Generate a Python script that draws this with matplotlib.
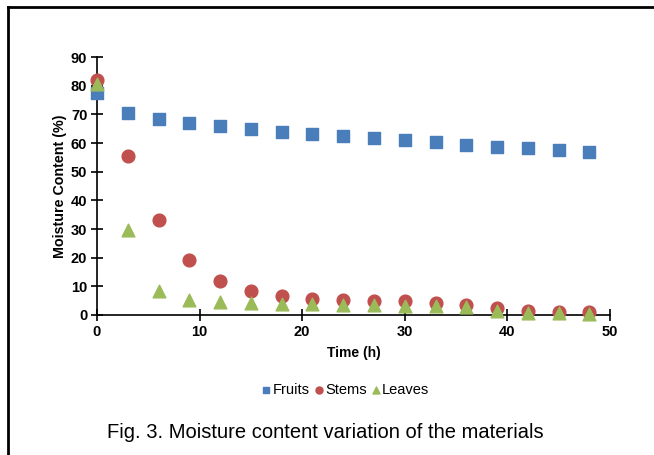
import matplotlib
matplotlib.use("Agg")
import matplotlib.pyplot as plt
from matplotlib.lines import Line2D

plt.rcParams['font.family'] = ['Liberation Sans', 'DejaVu Sans']

# drying time (h)
time_h = [0, 3, 6, 9, 12, 15, 18, 21, 24, 27, 30, 33, 36, 39, 42, 45, 48]
fruits = [77.5, 70.5, 68.3, 67.0, 66.0, 65.0, 64.0, 63.2, 62.5, 61.7, 61.0, 60.2, 59.3, 58.7, 58.2, 57.6, 57.0]
stems = [82.0, 55.3, 33.0, 19.3, 12.0, 8.2, 6.7, 5.7, 5.2, 5.0, 4.8, 4.2, 3.5, 2.5, 1.5, 1.2, 1.0]
leaves = [80.5, 29.8, 8.5, 5.3, 4.6, 4.3, 4.0, 3.8, 3.6, 3.5, 3.3, 3.1, 2.9, 1.5, 0.8, 0.6, 0.5]

fig = plt.figure(figsize=(6.54, 4.55), dpi=100)
ax = fig.add_axes([0.1483, 0.3077, 0.7844, 0.567])

ax.scatter(time_h, fruits, marker='s', s=76, color='#4A7EBB', label='Fruits', zorder=3, clip_on=False)
ax.scatter(time_h, stems, marker='o', s=84, color='#C0504D', label='Stems', zorder=4, clip_on=False)
ax.scatter(time_h, leaves, marker='^', s=84, color='#9BBB59', label='Leaves', zorder=5, clip_on=False)

ax.set_xlim(0, 50)
ax.set_ylim(0, 90)
ax.set_xticks(range(0, 51, 10))
ax.set_yticks(range(0, 91, 10))
for side in ['top', 'right']:
    ax.spines[side].set_visible(False)
for side in ['left', 'bottom']:
    ax.spines[side].set_linewidth(1.2)
ax.tick_params(direction='inout', length=8, width=1.2, labelsize=10.5, pad=3)
for lab in ax.get_xticklabels() + ax.get_yticklabels():
    lab.set_fontweight('bold')

ax.set_xlabel('Time (h)', fontsize=10, fontweight='bold', labelpad=5)
ax.set_ylabel('Moisture Content (%)', fontsize=10.3, fontweight='bold', labelpad=3)

ax.legend(loc='center', bbox_to_anchor=(345 / 654, 1 - 390 / 455), bbox_transform=fig.transFigure,
          ncol=3, frameon=False, fontsize=10.5, handletextpad=0.05, columnspacing=0.2,
          handlelength=0.8, markerscale=0.55)

fig.text(325 / 654, 1 - 433 / 455, 'Fig. 3. Moisture content variation of the materials',
         ha='center', va='center', fontsize=14.5)

# frame around the figure (left and top edges visible)
fig.add_artist(Line2D([8 / 654, 8 / 654], [0, 1 - 7 / 455], transform=fig.transFigure, color='black', lw=2))
fig.add_artist(Line2D([8 / 654, 1], [1 - 7 / 455, 1 - 7 / 455], transform=fig.transFigure, color='black', lw=2))

fig.savefig('out.png', dpi=100)
